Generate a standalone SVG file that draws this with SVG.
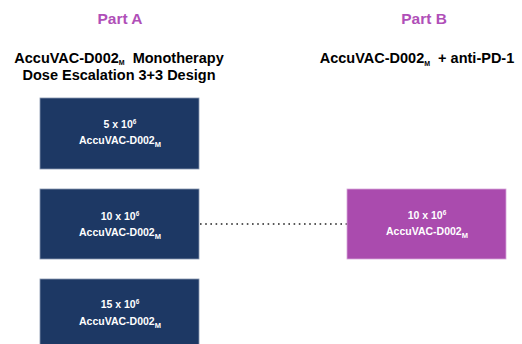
<svg xmlns="http://www.w3.org/2000/svg" width="522" height="344" viewBox="0 0 522 344">
<style>
.part{font-family:"Liberation Sans",Arial,sans-serif;font-weight:bold;font-size:15.5px;fill:#B04FB8;text-anchor:middle}
.sub{font-family:"Liberation Sans",Arial,sans-serif;font-weight:bold;font-size:14.5px;fill:#000;text-anchor:middle}
.bt{font-family:"Liberation Sans",Arial,sans-serif;font-weight:bold;font-size:10.5px;fill:#fff;text-anchor:middle}
.navy{fill:#1D3864;stroke:#8796AE;stroke-width:0.8}
.purp{fill:#AA4BAE;stroke:#D7A6DA;stroke-width:0.8}
.sup{font-size:6.5px}
.sb{font-size:7.5px}
.sbs{font-size:7px}
</style>
<rect width="522" height="344" fill="#fff"/>
<text class="part" x="120" y="24">Part A</text>
<text class="part" x="424" y="24">Part B</text>
<text class="sub" x="119" y="62.5" xml:space="preserve">AccuVAC-D002<tspan class="sbs" dy="2.5">M</tspan><tspan dy="-2.5">  Monotherapy</tspan></text>
<text class="sub" x="119" y="80">Dose Escalation 3+3 Design</text>
<text class="sub" x="417" y="63" xml:space="preserve">AccuVAC-D002<tspan class="sbs" dy="2.5">M</tspan><tspan dy="-2.5">  + anti-PD-1</tspan></text>
<g id="connectors">
<line x1="200" y1="224" x2="347" y2="224" stroke="#222" stroke-width="1.6" stroke-dasharray="1.6 3.6"/>
</g>
<g id="dose5">
<rect class="navy" x="40" y="98" width="159" height="71"/>
<text class="bt" x="120" y="128">5 x 10<tspan class="sup" dy="-4">6</tspan></text>
<text class="bt" x="120" y="144">AccuVAC-D002<tspan class="sb" dy="3">M</tspan></text>
</g>
<g id="dose10">
<rect class="navy" x="40" y="189" width="159" height="70"/>
<text class="bt" x="120" y="220">10 x 10<tspan class="sup" dy="-4">6</tspan></text>
<text class="bt" x="120" y="236">AccuVAC-D002<tspan class="sb" dy="3">M</tspan></text>
</g>
<g id="dose15">
<rect class="navy" x="40" y="279" width="159" height="70"/>
<text class="bt" x="120" y="308">15 x 10<tspan class="sup" dy="-4">6</tspan></text>
<text class="bt" x="120" y="325">AccuVAC-D002<tspan class="sb" dy="3">M</tspan></text>
</g>
<g id="partB10">
<rect class="purp" x="347" y="189" width="159" height="70"/>
<text class="bt" x="427" y="219">10 x 10<tspan class="sup" dy="-4">6</tspan></text>
<text class="bt" x="427" y="235">AccuVAC-D002<tspan class="sb" dy="3">M</tspan></text>
</g>
</svg>
